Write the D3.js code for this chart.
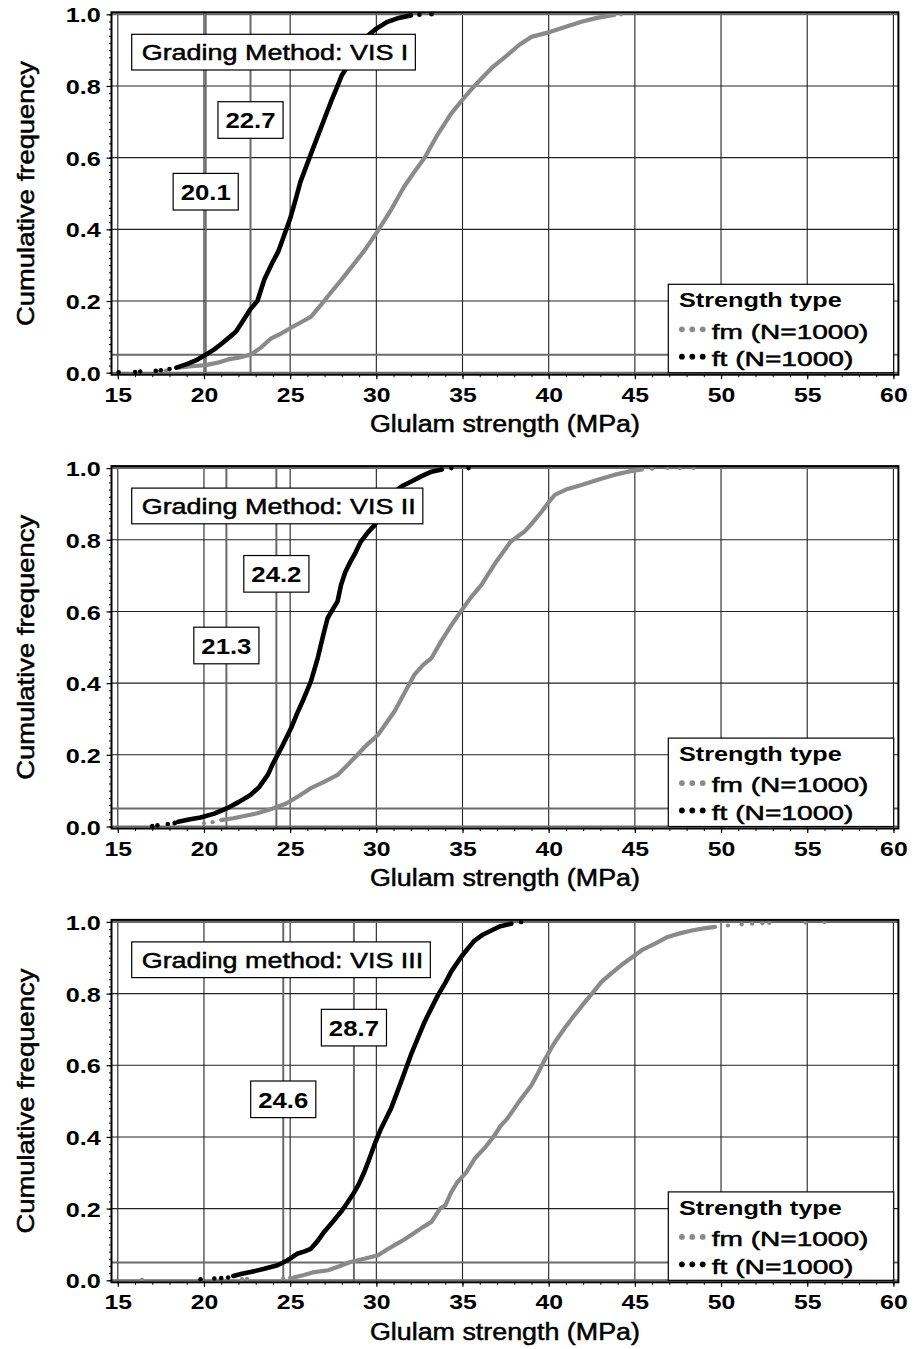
<!DOCTYPE html>
<html><head><meta charset="utf-8">
<script src="https://cdn.jsdelivr.net/npm/d3@7"></script>
<style>body{margin:0;background:#fff}svg{display:block}</style>
</head><body>
<svg id="c" width="915" height="1349"></svg>
<script>
// ---------------- data ----------------
const xTicks = [15, 20, 25, 30, 35, 40, 45, 50, 55, 60];
const yTicks = [0, 0.2, 0.4, 0.6, 0.8, 1.0];
const xLabel = "Glulam strength (MPa)";
const yLabel = "Cumulative frequency";
const panelTitles = ["Grading Method: VIS I", "Grading Method: VIS II", "Grading method: VIS III"];
const fifthPercentiles = [[20.1, 22.7], [21.3, 24.2], [24.6, 28.7]];
const labelFreqs = [0.505, 0.705];
const refFreq = 0.05;
const legendTitle = "Strength type";
const seriesNames = ["fm", "ft"];
const seriesN = [1000, 1000];

// VIS I
const fmLine1 = [[18.5,0.014],[19.3,0.018],[20.1,0.021],[20.8,0.028],[21.4,0.037],[22.0,0.042],[22.7,0.05],[23.3,0.07],[23.9,0.096],[24.5,0.11],[25.0,0.124],[25.6,0.14],[26.2,0.156],[26.8,0.19],[27.4,0.226],[27.9,0.255],[28.5,0.291],[29.3,0.34],[30.05,0.393],[30.8,0.45],[31.6,0.518],[32.2,0.56],[32.8,0.6],[33.5,0.66],[34.3,0.72],[34.9,0.756],[35.5,0.79],[36.1,0.821],[36.8,0.855],[37.6,0.886],[38.3,0.915],[39.0,0.937],[40.1,0.951],[41.0,0.965],[41.9,0.979],[42.8,0.99],[43.8,0.998]];
const fmDots1 = [[17.3,0.003],[17.8,0.006],[44.2,1.0]];
const ftLine1 = [[18.4,0.014],[19.0,0.024],[19.6,0.036],[20.1,0.05],[20.6,0.065],[21.0,0.08],[21.5,0.1],[21.85,0.114],[22.2,0.14],[22.7,0.178],[23.1,0.2],[23.5,0.26],[24.0,0.31],[24.3,0.337],[24.7,0.39],[25.0,0.43],[25.3,0.48],[25.6,0.533],[26.2,0.61],[26.6,0.66],[27.0,0.71],[27.4,0.76],[27.75,0.80],[28.0,0.83],[28.4,0.86],[28.9,0.9],[29.5,0.94],[30.0,0.96],[30.65,0.979],[31.3,0.99],[32.0,0.997]];
const ftDots1 = [[15.05,0.001],[16.0,0.002],[16.3,0.003],[17.2,0.005],[17.5,0.007],[18.0,0.01],[32.5,0.999],[33.2,1.0]];

// VIS II
const fmLine2 = [[21.0,0.018],[21.7,0.023],[22.4,0.03],[23.1,0.037],[24.0,0.05],[24.8,0.065],[25.5,0.085],[26.2,0.107],[27.0,0.125],[27.75,0.144],[28.3,0.17],[28.9,0.2],[29.5,0.23],[30.1,0.256],[30.6,0.29],[31.05,0.321],[31.6,0.37],[32.2,0.423],[32.7,0.45],[33.2,0.47],[33.8,0.52],[34.3,0.558],[34.9,0.6],[35.5,0.64],[36.1,0.674],[36.9,0.735],[37.8,0.795],[38.6,0.823],[39.1,0.85],[39.6,0.879],[40.0,0.905],[40.35,0.925],[41.0,0.94],[41.9,0.953],[42.9,0.968],[43.8,0.981],[44.6,0.99],[45.4,0.996]];
const fmDots2 = [[17.9,0.004],[18.3,0.006],[20.0,0.009],[20.5,0.012],[46.0,0.998],[46.9,1.0],[47.6,1.0],[48.4,1.0]];
const ftLine2 = [[18.5,0.013],[19.2,0.02],[19.8,0.025],[20.6,0.036],[21.35,0.051],[22.0,0.068],[22.7,0.088],[23.2,0.11],[23.7,0.144],[24.0,0.175],[24.27,0.2],[24.6,0.23],[25.05,0.274],[25.4,0.315],[25.8,0.358],[26.2,0.404],[26.6,0.47],[26.9,0.53],[27.17,0.581],[27.4,0.6],[27.75,0.628],[27.95,0.674],[28.2,0.71],[28.5,0.739],[28.8,0.765],[29.1,0.795],[29.5,0.82],[29.9,0.841],[30.4,0.885],[31.05,0.934],[31.5,0.95],[32.0,0.962],[32.6,0.977],[33.2,0.99],[33.8,0.996]];
const ftDots2 = [[17.0,0.001],[17.3,0.003],[17.9,0.007],[18.3,0.01],[34.35,1.0],[35.35,1.0]];

// VIS III
const fmLine3 = [[25.2,0.008],[25.8,0.015],[26.4,0.023],[27.2,0.028],[27.9,0.04],[28.5,0.051],[29.3,0.06],[30.1,0.07],[30.6,0.085],[31.05,0.098],[31.5,0.11],[32.0,0.126],[32.6,0.145],[33.2,0.163],[33.7,0.2],[34.0,0.209],[34.35,0.246],[34.7,0.274],[35.2,0.3],[35.7,0.339],[36.3,0.37],[36.85,0.404],[37.2,0.43],[37.6,0.451],[38.3,0.5],[39.0,0.544],[39.4,0.58],[39.8,0.618],[40.3,0.66],[40.9,0.702],[41.5,0.74],[42.1,0.776],[42.6,0.805],[43.05,0.832],[43.6,0.855],[44.2,0.879],[44.8,0.9],[45.4,0.921],[46.2,0.94],[46.9,0.958],[47.6,0.968],[48.3,0.976],[49.0,0.982],[49.65,0.986]];
const fmDots3 = [[16.4,0.001],[22.2,0.003],[22.5,0.004],[24.6,0.005],[25.0,0.007],[50.4,0.99],[51.2,0.993],[51.8,0.995],[52.4,0.996],[52.8,0.997],[54.9,0.998],[56.0,0.999]];
const ftLine3 = [[21.7,0.012],[22.2,0.018],[22.7,0.023],[23.5,0.032],[24.27,0.042],[24.85,0.056],[25.4,0.074],[25.8,0.08],[26.2,0.088],[26.6,0.11],[26.97,0.135],[27.5,0.165],[27.95,0.191],[28.3,0.215],[28.72,0.246],[29.0,0.27],[29.3,0.302],[29.6,0.34],[29.88,0.377],[30.27,0.423],[30.6,0.455],[30.85,0.479],[31.43,0.553],[32.0,0.628],[32.4,0.675],[32.8,0.721],[33.2,0.76],[33.57,0.795],[34.0,0.83],[34.35,0.862],[34.92,0.902],[35.3,0.925],[35.7,0.948],[36.2,0.965],[36.67,0.976],[37.2,0.988],[37.83,0.995]];
const ftDots3 = [[19.8,0.003],[20.6,0.005],[21.0,0.006],[21.4,0.008],[38.4,1.0]];

const fmLines = [fmLine1, fmLine2, fmLine3];
const fmDots = [fmDots1, fmDots2, fmDots3];
const ftLines = [ftLine1, ftLine2, ftLine3];
const ftDots = [ftDots1, ftDots2, ftDots3];

// ---------------- drawing ----------------
const FONT = "'Liberation Sans', Arial, Helvetica, sans-serif";
const GREY = "#8a8a8a";
const svg = d3.select("#c");
const x = d3.scaleLinear().domain([15, 60]).range([117.8, 893.4]);
const PANEL_STEP = 453.8;

function stretch(sel, k) {
  sel.each(function () {
    const L = this.getComputedTextLength();
    this.setAttribute("textLength", L * k);
    this.setAttribute("lengthAdjust", "spacingAndGlyphs");
  });
}
function fit(sel, w) {
  sel.attr("textLength", w).attr("lengthAdjust", "spacingAndGlyphs");
}

panelTitles.forEach((title, i) => {
  const off = i * PANEL_STEP;
  const y = d3.scaleLinear().domain([0, 1]).range([372.7 + off, 14.3 + off]);
  const L = x(15) - 6.3, R = x(60) + 5, T = y(1) - 2, B = y(0) + 2;
  const g = svg.append("g");

  // grid
  g.append("g").selectAll("line").data(xTicks).join("line")
    .attr("x1", d => x(d)).attr("x2", d => x(d)).attr("y1", T).attr("y2", B)
    .attr("stroke", "#222").attr("stroke-width", 1.1);
  g.append("g").selectAll("line").data(yTicks.filter(d => d > 0 && d < 1)).join("line")
    .attr("x1", L).attr("x2", R).attr("y1", d => y(d)).attr("y2", d => y(d))
    .attr("stroke", "#222").attr("stroke-width", 1.1);
  // grey reference lines
  g.append("g").selectAll("line").data([0, refFreq, 1]).join("line")
    .attr("x1", L).attr("x2", R).attr("y1", d => y(d)).attr("y2", d => y(d))
    .attr("stroke", "#6a6a6a").attr("stroke-width", 2);
  g.append("g").selectAll("line").data(fifthPercentiles[i]).join("line")
    .attr("x1", d => x(d)).attr("x2", d => x(d)).attr("y1", T).attr("y2", B)
    .attr("stroke", "#6a6a6a").attr("stroke-width", 2);

  // curves
  const line = d3.line().x(d => x(d[0])).y(d => y(d[1]));
  const series = [
    {line: fmLines[i], dots: fmDots[i], color: GREY, w: 4.2, r: 2.1},
    {line: ftLines[i], dots: ftDots[i], color: "#000", w: 4.6, r: 2.3}
  ];
  series.forEach(s => {
    g.append("path").datum(s.line).attr("d", line)
      .attr("fill", "none").attr("stroke", s.color).attr("stroke-width", s.w)
      .attr("stroke-linejoin", "round").attr("stroke-linecap", "round");
    g.append("g").selectAll("circle").data(s.dots).join("circle")
      .attr("cx", d => x(d[0])).attr("cy", d => y(d[1])).attr("r", s.r).attr("fill", s.color);
  });

  // title box
  const tg = g.append("g");
  const tRect = tg.append("rect");
  const tText = tg.append("text").text(title)
    .attr("x", 141.7).attr("y", y(1) + 45.7)
    .attr("font-family", FONT).attr("font-size", 22)
    .attr("fill", "#000").attr("stroke", "#000").attr("stroke-width", 0.5);
  stretch(tText, 1.225);
  const tw = +tText.attr("textLength");
  tRect.attr("x", 131.7).attr("y", y(1) + 20).attr("width", tw + 17).attr("height", 35.7)
    .attr("fill", "#fff").attr("stroke", "#000").attr("stroke-width", 1.2);

  // value labels
  const vals = fifthPercentiles[i].slice().sort((a, b) => a - b);
  vals.forEach((v, j) => {
    const cy = y(labelFreqs[j]);
    const lg = g.append("g");
    const r = lg.append("rect");
    const t = lg.append("text").text(d3.format(".1f")(v))
      .attr("x", x(v)).attr("y", cy + 8.3).attr("text-anchor", "middle")
      .attr("font-family", FONT).attr("font-size", 22).attr("font-weight", "bold").attr("fill", "#000");
    stretch(t, 1.17);
    const w = +t.attr("textLength");
    r.attr("x", x(v) - w / 2 - 7.5).attr("y", cy - 18.3).attr("width", w + 15).attr("height", 36.6)
      .attr("fill", "#fff").attr("stroke", "#000").attr("stroke-width", 1.2);
  });

  // legend
  const lw = 225.4, lh = 88.4;
  const lx = x(60) - lw + 0.3, ly = y(0) - lh;
  const leg = g.append("g").attr("transform", `translate(${lx},${ly})`);
  leg.append("rect").attr("width", lw).attr("height", lh)
    .attr("fill", "#fff").attr("stroke", "#000").attr("stroke-width", 1.2);
  fit(leg.append("text").text(legendTitle).attr("x", 10.7).attr("y", 23)
    .attr("font-family", FONT).attr("font-size", 20).attr("font-weight", "bold"), 162.7);
  const rowColors = [GREY, "#000"];
  const rowWidths = [156.7, 141.7];
  seriesNames.forEach((nm, k) => {
    const ry = 45 + k * 27.4;
    leg.append("g").selectAll("circle").data([0, 1, 2]).join("circle")
      .attr("cx", d => 13.6 + d * 10.4).attr("cy", ry).attr("r", 2.9).attr("fill", rowColors[k]);
    fit(leg.append("text").text(`${nm} (N=${seriesN[k]})`)
      .attr("x", 43.4).attr("y", ry + 9.4)
      .attr("font-family", FONT).attr("font-size", 20)
      .attr("fill", "#000").attr("stroke", "#000").attr("stroke-width", 0.5), rowWidths[k]);
  });

  // frame
  g.append("rect").attr("x", L).attr("y", T).attr("width", R - L).attr("height", B - T)
    .attr("fill", "none").attr("stroke", "#000").attr("stroke-width", 2);

  // axes
  const yAxisMinor = d3.axisLeft(y).tickValues(d3.range(0, 1.0001, 0.02)).tickSize(2.5).tickFormat("");
  g.append("g").attr("transform", `translate(${L},0)`).call(yAxisMinor)
    .call(a => a.select(".domain").remove())
    .selectAll("line").attr("stroke", "#000");
  const yAxis = d3.axisLeft(y).tickValues(yTicks).tickSize(5).tickPadding(5).tickFormat(d3.format(".1f"));
  const ya = g.append("g").attr("transform", `translate(${L},0)`).call(yAxis);
  ya.select(".domain").remove();
  ya.selectAll("line").attr("stroke", "#000").attr("stroke-width", 1.2);
  ya.selectAll("text").attr("x", -10.7).attr("dy", "0.36em")
    .attr("font-family", FONT).attr("font-size", 21).attr("font-weight", "bold").attr("fill", "#000")
    .call(stretch, 1.2);

  const xAxisMinor = d3.axisBottom(x).tickValues(d3.range(15, 60.001, 1)).tickSize(2.5).tickFormat("");
  g.append("g").attr("transform", `translate(0,${B})`).call(xAxisMinor)
    .call(a => a.select(".domain").remove())
    .selectAll("line").attr("stroke", "#000");
  const xAxis = d3.axisBottom(x).tickValues(xTicks).tickSize(4.5);
  const xa = g.append("g").attr("transform", `translate(0,${B})`).call(xAxis);
  xa.select(".domain").remove();
  xa.selectAll("line").attr("stroke", "#000").attr("stroke-width", 1.2);
  xa.selectAll("text").attr("y", 27).attr("dy", 0)
    .attr("font-family", FONT).attr("font-size", 21).attr("font-weight", "bold").attr("fill", "#000")
    .call(stretch, 1.18);

  // axis titles
  fit(g.append("text").text(xLabel)
    .attr("x", (L + R) / 2).attr("y", y(0) + 59.5).attr("text-anchor", "middle")
    .attr("font-family", FONT).attr("font-size", 23)
    .attr("fill", "#000").attr("stroke", "#000").attr("stroke-width", 0.5), 270);
  fit(g.append("text").text(yLabel)
    .attr("transform", `translate(33.5,${(y(0) + y(1)) / 2}) rotate(-90)`)
    .attr("text-anchor", "middle")
    .attr("font-family", FONT).attr("font-size", 24)
    .attr("fill", "#000").attr("stroke", "#000").attr("stroke-width", 0.5), 265);
});
</script>
</body></html>
